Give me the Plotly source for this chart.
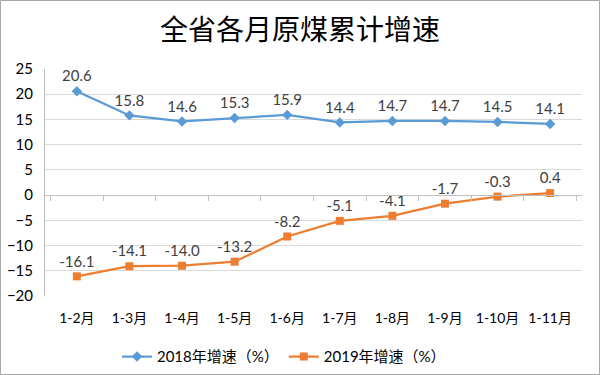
import plotly.graph_objects as go

categories = ["1-2月", "1-3月", "1-4月", "1-5月", "1-6月", "1-7月", "1-8月", "1-9月", "1-10月", "1-11月"]
growth_2018 = [20.6, 15.8, 14.6, 15.3, 15.9, 14.4, 14.7, 14.7, 14.5, 14.1]
growth_2019 = [-16.1, -14.1, -14.0, -13.2, -8.2, -5.1, -4.1, -1.7, -0.3, 0.4]
series_names = ["2018年增速（%）", "2019年增速（%）"]
y_ticks = [-20, -15, -10, -5, 0, 5, 10, 15, 20, 25]

FONT = "Lato, 'Noto Sans CJK SC', sans-serif"
BLUE = "#5B9BD5"
ORANGE = "#ED7D31"

fig = go.Figure()
fig.add_trace(go.Scatter(
    x=categories, y=growth_2018, name=series_names[0], mode="lines+markers+text",
    line=dict(color=BLUE, width=2.25), marker=dict(symbol="diamond", size=8, color=BLUE),
    text=[f"{v:.1f}" for v in growth_2018], textposition="top center",
    textfont=dict(size=15, color="#404040", family=FONT), cliponaxis=False,
))
fig.add_trace(go.Scatter(
    x=categories, y=growth_2019, name=series_names[1], mode="lines+markers+text",
    line=dict(color=ORANGE, width=2.25), marker=dict(symbol="square", size=8, color=ORANGE),
    text=[f"{v:.1f}" for v in growth_2019], textposition="top center",
    textfont=dict(size=15, color="#404040", family=FONT), cliponaxis=False,
))
# invisible trace to carry the zero-position category axis
fig.add_trace(go.Scatter(x=categories, y=growth_2018, xaxis="x2", showlegend=False,
                         mode="markers", marker=dict(opacity=0), hoverinfo="skip"))

L, R, T, B = 45, 18, 69, 79
W, H = 600, 375
pw, ph = W - L - R, H - T - B

fig.update_layout(
    width=W, height=H,
    margin=dict(l=L, r=R, t=T, b=B, autoexpand=False),
    paper_bgcolor="white", plot_bgcolor="white",
    title=dict(text="全省各月原煤累计增速", x=0.5, xanchor="center", y=0.92, yanchor="middle",
               automargin=False,
               font=dict(size=28, color="#000000", family="'Noto Sans CJK SC', sans-serif")),
    xaxis=dict(type="category", showgrid=False, zeroline=False, showline=False, ticks="",
               automargin=False,
               tickfont=dict(size=14, color="#000000", family=FONT), ticklabelstandoff=12),
    xaxis2=dict(type="category", overlaying="x", anchor="free", position=20 / 45, matches="x",
                automargin=False,
                showticklabels=False, showgrid=False, showline=True, linecolor="#BFBFBF", linewidth=1,
                ticks="outside", tickson="boundaries", ticklen=5, tickcolor="#BFBFBF"),
    yaxis=dict(range=[-20, 25], tickvals=y_ticks, showgrid=True, gridcolor="#D9D9D9", gridwidth=1,
               automargin=False,
               zeroline=False, showline=True, linecolor="#BFBFBF", linewidth=1,
               tickfont=dict(size=15, color="#000000", family=FONT), ticks="", ticklabelstandoff=8),
    legend=dict(orientation="h", x=0.445, xanchor="center", y=-0.195, yanchor="top",
                font=dict(size=15, color="#000000", family=FONT), itemwidth=30, tracegroupgap=20),
    showlegend=True,
    shapes=[dict(type="rect", xref="paper", yref="paper",
                 x0=-(L - 0.5) / pw, x1=1 + (R - 0.5) / pw,
                 y0=-(B - 0.5) / ph, y1=1 + (T - 0.5) / ph,
                 line=dict(color="#A6A6A6", width=1), layer="below")],
)

fig.write_html("out.html", config={"displayModeBar": False},
               post_script="document.body.style.margin='0';document.body.style.overflow='hidden';")
